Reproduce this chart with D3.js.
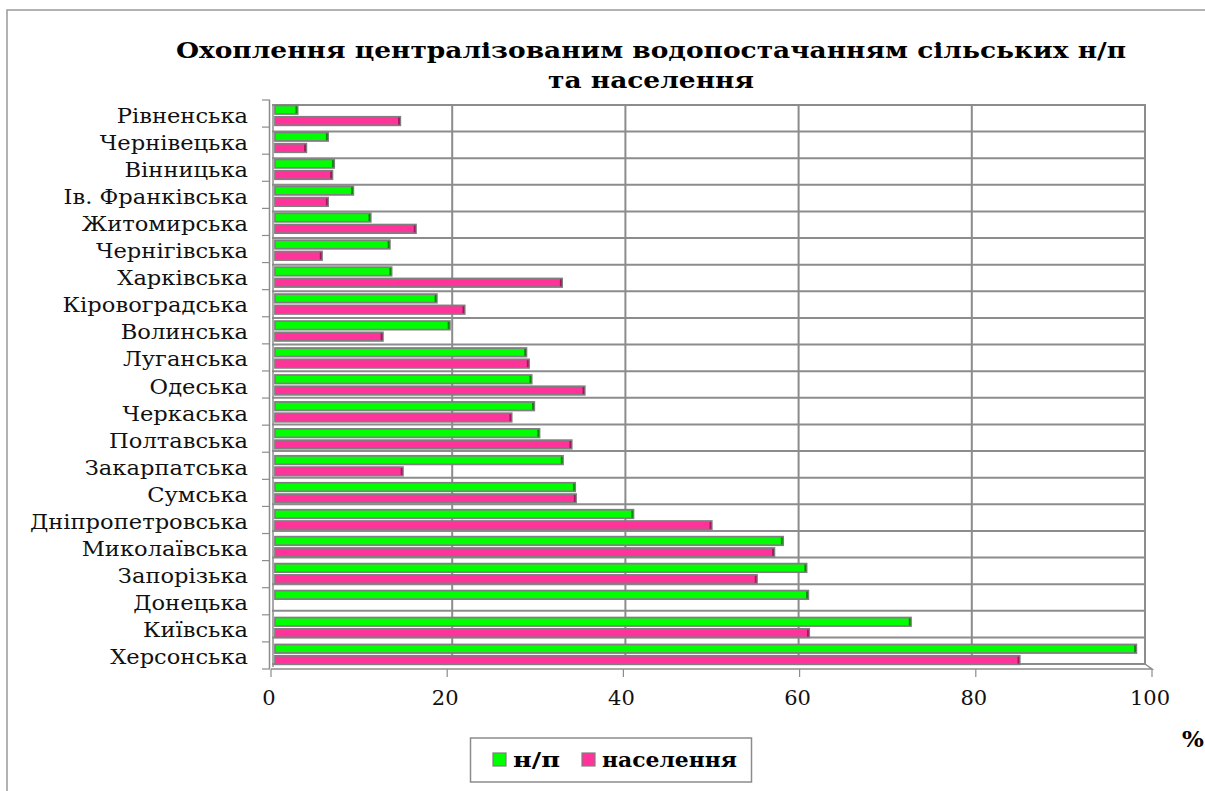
<!DOCTYPE html>
<html><head><meta charset="utf-8">
<script src="https://cdn.jsdelivr.net/npm/d3@7"></script>
<style>body{margin:0;background:#fff}svg{display:block}</style>
</head><body>
<svg id="c" width="1205" height="791"></svg>
<script>
const categories = ["Рівненська","Чернівецька","Вінницька","Ів. Франківська","Житомирська","Чернігівська","Харківська","Кіровоградська","Волинська","Луганська","Одеська","Черкаська","Полтавська","Закарпатська","Сумська","Дніпропетровська","Миколаївська","Запорізька","Донецька","Київська","Херсонська"];
const settlements = [2.6,6.1,6.8,9.0,11.0,13.2,13.4,18.6,20.1,28.9,29.5,29.8,30.4,33.1,34.5,41.2,58.4,61.1,61.3,73.1,99.0];
const population  = [14.4,3.6,6.6,6.1,16.2,5.4,33.0,21.8,12.4,29.2,35.6,27.2,34.1,14.7,34.6,50.2,57.4,55.4,0,61.4,85.6];
const xTicks = [0,20,40,60,80,100];
const seriesNames = ["н/п","населення"];
const titleLines = ["Охоплення централізованим водопостачанням сільських н/п","та населення"];
const axisUnit = "%";

const svg = d3.select("#c");
const grey = "#8c8c8c";
const green = "#00ff00", pink = "#ff3399";
const greenDark = "#008a00", pinkDark = "#a0185e";

// widen text horizontally (reference face is wider than available serif)
function widen(sel, ratio){
  sel.each(function(){
    const w = this.getComputedTextLength();
    d3.select(this).attr("textLength", w*ratio).attr("lengthAdjust","spacingAndGlyphs");
  });
}

// chart area border
svg.append("rect").attr("x",7).attr("y",10).attr("width",1230).attr("height",820)
  .attr("fill","none").attr("stroke","#999").attr("stroke-width",1.5);

// title
const tt = svg.selectAll("text.title").data(titleLines).enter().append("text")
  .attr("class","title").attr("x",651).attr("y",(d,i)=>58+i*30)
  .attr("text-anchor","middle").attr("font-family","DejaVu Serif").attr("font-weight","bold")
  .attr("font-size",23).text(d=>d);
widen(tt, 1.15);

// scales: back wall, bar plane, front axis (pseudo 3D)
const xBack = d3.scaleLinear().domain([0,100]).range([279,1145]);
const xBar  = d3.scaleLinear().domain([0,100]).range([275,1145]);
const xFront= d3.scaleLinear().domain([0,100]).range([271,1152]);
const yBack = d3.scaleBand().domain(categories).range([105,664]);
const yBar  = d3.scaleBand().domain(categories).range([103,103+21*26.95]);
const yFront= d3.scaleBand().domain(categories).range([100,669]);

const g = svg.append("g");
// back wall vertical gridlines
g.selectAll("line.vg").data(xTicks.slice(1)).enter().append("line")
  .attr("x1",d=>xBack(d)).attr("x2",d=>xBack(d)).attr("y1",104).attr("y2",665)
  .attr("stroke",grey).attr("stroke-width",2);
// back horizontal lines (category boundaries)
const hb = categories.map(c=>yBack(c)).concat([664]);
g.selectAll("line.hg").data(hb).enter().append("line")
  .attr("x1",272).attr("x2",xBack(100)).attr("y1",d=>d).attr("y2",d=>d)
  .attr("stroke",grey).attr("stroke-width",2);
// left wall
g.append("line").attr("x1",269.5).attr("x2",269.5).attr("y1",100).attr("y2",669).attr("stroke",grey).attr("stroke-width",1.5);
g.append("line").attr("x1",273).attr("x2",273).attr("y1",104).attr("y2",667).attr("stroke",grey).attr("stroke-width",1.5);
// floor
g.append("path").attr("d",`M${xFront(0)},669 L${xFront(100)},669 L${xBack(100)},664`)
  .attr("fill","none").attr("stroke",grey).attr("stroke-width",1.5);
// left ticks
g.selectAll("line.lt").data(categories.map(c=>yFront(c)).concat([669])).enter().append("line")
  .attr("x1",262).attr("x2",270).attr("y1",d=>d).attr("y2",d=>d).attr("stroke",grey).attr("stroke-width",1.2);
// bottom ticks
g.selectAll("line.bt").data(xTicks).enter().append("line")
  .attr("x1",d=>xFront(d)).attr("x2",d=>xFront(d)).attr("y1",669).attr("y2",677)
  .attr("stroke",grey).attr("stroke-width",1.2);

// bars
function drawBars(vals, off, fill, dark){
  const bg = g.append("g");
  const rows = categories.map((c,i)=>({c,v:vals[i]})).filter(d=>d.v>0);
  bg.selectAll("rect.b").data(rows).enter().append("rect")
    .attr("x",xBar(0)).attr("y",d=>yBar(d.c)+off)
    .attr("width",d=>xBar(d.v)-xBar(0)).attr("height",8.5)
    .attr("fill",fill).attr("stroke","#7f7f7f").attr("stroke-width",1.8);
  bg.selectAll("rect.s").data(rows).enter().append("rect")
    .attr("x",d=>xBar(d.v)-2.2).attr("y",d=>yBar(d.c)+off+0.8)
    .attr("width",1.8).attr("height",7)
    .attr("fill",dark);
}
drawBars(settlements, 2.5, green, greenDark);
drawBars(population, 13.8, pink, pinkDark);

// category labels
const cl = svg.selectAll("text.cat").data(categories).enter().append("text")
  .attr("x",248).attr("y",c=>yFront(c)+yFront.bandwidth()/2+2)
  .attr("dy","0.35em").attr("text-anchor","end")
  .attr("font-family","DejaVu Serif").attr("font-size",20).attr("fill","#111").text(d=>d);
widen(cl, 1.13);

// x tick labels
svg.selectAll("text.xt").data(xTicks).enter().append("text")
  .attr("x",d=>xFront(d)-2).attr("y",705).attr("text-anchor","middle")
  .attr("font-family","DejaVu Serif").attr("font-size",21).attr("fill","#111").text(d=>d);

// unit label
svg.append("text").attr("x",1193).attr("y",747).attr("text-anchor","middle")
  .attr("font-family","DejaVu Serif").attr("font-weight","bold").attr("font-size",23).text(axisUnit);

// legend
const lg = svg.append("g");
lg.append("rect").attr("x",470.5).attr("y",738).attr("width",281).attr("height",44)
  .attr("fill","#fff").attr("stroke","#8c8c8c").attr("stroke-width",1.5);
const legendX = [493, 582];
const legendC = [green, pink];
const legendW = [47, 135];
seriesNames.forEach((n,i)=>{
  lg.append("rect").attr("x",legendX[i]).attr("y",753).attr("width",13).attr("height",13)
    .attr("fill",legendC[i]).attr("stroke","#7f7f7f").attr("stroke-width",1.2);
  lg.append("text").attr("x",legendX[i]+20).attr("y",767)
    .attr("font-family","DejaVu Serif").attr("font-weight","bold").attr("font-size",20)
    .attr("textLength",legendW[i]).attr("lengthAdjust","spacingAndGlyphs").text(n);
});
</script>
</body></html>
